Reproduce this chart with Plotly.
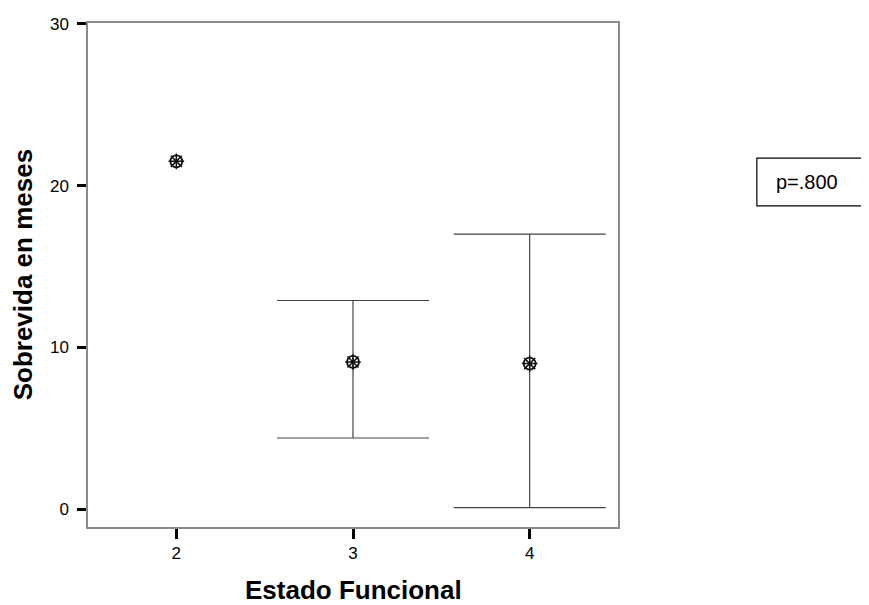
import plotly.graph_objects as go

categories = [2, 3, 4]
means = [21.5, 9.1, 9.0]
upper = [None, 12.9, 17.0]
lower = [None, 4.4, 0.1]
y_ticks = [0, 10, 20, 30]
x_title = "Estado Funcional"
y_title = "Sobrevida en meses"
p_label = "p=.800"

err_x = [c for c, u in zip(categories, upper) if u is not None]
err_m = [m for m, u in zip(means, upper) if u is not None]
err_plus = [u - m for m, u in zip(means, upper) if u is not None]
err_minus = [m - l for m, l in zip(means, lower) if l is not None]

fig = go.Figure()
fig.add_trace(go.Scatter(
    x=err_x, y=err_m, mode="markers",
    marker=dict(size=1, color="rgba(0,0,0,0)"),
    error_y=dict(type="data", symmetric=False, array=err_plus, arrayminus=err_minus,
                 width=76, thickness=1.2, color="#444444"),
    showlegend=False, hoverinfo="skip"))
fig.add_trace(go.Scatter(
    x=categories, y=means, mode="markers",
    marker=dict(symbol="circle-open", size=12, color="#111111", line=dict(width=1.8, color="#111111")),
    showlegend=False))
fig.add_trace(go.Scatter(
    x=categories, y=means, mode="markers",
    marker=dict(symbol="asterisk-open", size=13, color="#111111", line=dict(width=1.5, color="#111111")),
    showlegend=False))

fig.update_layout(
    width=861, height=597,
    margin=dict(l=80, r=251, t=15, b=78, autoexpand=False),
    paper_bgcolor="white", plot_bgcolor="white",
    font=dict(family="Arial, Liberation Sans, sans-serif", color="black"),
    shapes=[dict(type="rect", xref="paper", yref="paper", x0=1.262, x1=1.49, y0=0.637, y1=0.732,
                 line=dict(color="black", width=1.2), fillcolor="white")],
    annotations=[
        dict(text=p_label, xref="paper", yref="paper", x=1.294, y=0.6845,
             xanchor="left", yanchor="middle", showarrow=False,
             font=dict(size=20, color="black")),
        dict(text="<b>" + x_title + "</b>", xref="paper", yref="paper", x=0.5, y=-0.125,
             xanchor="center", yanchor="middle", showarrow=False, font=dict(size=26, color="black")),
        dict(text="<b>" + y_title + "</b>", xref="paper", yref="paper", x=-0.122, y=0.5,
             xanchor="center", yanchor="middle", textangle=-90, showarrow=False,
             font=dict(size=26, color="black")),
    ],
)
fig.update_xaxes(
    range=[1.5, 4.5], tickmode="array", tickvals=categories, ticktext=[str(c) for c in categories],
    showgrid=False, zeroline=False, showline=True, mirror=True, linecolor="#8a8a8a", linewidth=1.5,
    ticks="outside", ticklen=10, tickwidth=3, tickcolor="black", automargin=False,
    tickfont=dict(size=17))
fig.update_yaxes(
    range=[-1.1, 30.05], tickmode="array", tickvals=y_ticks,
    showgrid=False, zeroline=False, showline=True, mirror=True, linecolor="#8a8a8a", linewidth=1.5,
    ticks="outside", ticklen=9, tickwidth=3, tickcolor="black", automargin=False,
    ticklabelstandoff=5, tickfont=dict(size=17))

fig.write_html("out.html")
